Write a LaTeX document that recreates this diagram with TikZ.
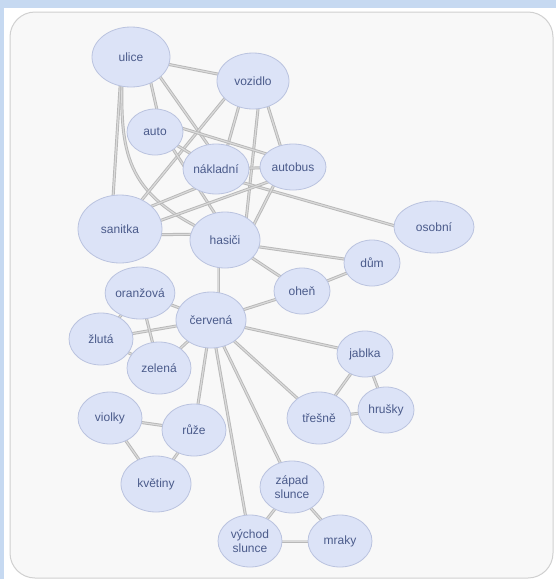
\documentclass[tikz,border=0pt]{standalone}
\usepackage{fontspec}
\setmainfont{Liberation Sans}
\usetikzlibrary{shapes.geometric,calc}
\pgfdeclarelayer{back}
\pgfdeclarelayer{edges}
\pgfsetlayers{back,edges,main}
\definecolor{bgblue}{HTML}{C6D9F1}
\definecolor{panelfill}{HTML}{F8F8F8}
\definecolor{panelline}{HTML}{D0D0D0}
\definecolor{nodefill}{HTML}{DCE3F7}
\definecolor{nodeline}{HTML}{BAC3DF}
\definecolor{nodetext}{HTML}{4B5B8B}
\definecolor{edgeline}{HTML}{B8B8B8}
\definecolor{edgeinner}{HTML}{DADADA}
\tikzset{
  concept/.style={ellipse, draw=nodeline, line width=0.8pt, fill=nodefill, inner sep=0pt,
    text=nodetext, font=\fontsize{12}{13.5}\selectfont, align=center},
  link/.style={draw=edgeline, line width=0.9pt, double=edgeinner, double distance=1.2pt},
}
\begin{document}
\begin{tikzpicture}[x=1pt,y=-1pt]
\useasboundingbox (0,0) rectangle (556,579);
\begin{pgfonlayer}{back}
\fill[bgblue] (0,0) rectangle (556,579);
\fill[white] (4,8) rectangle (556,579);
\draw[panelline, fill=panelfill, line width=1pt, rounded corners=25pt] (10,12) rectangle (553,578);
\end{pgfonlayer}

\node[concept, minimum width=78pt, minimum height=60pt] (ulice) at (131,57) {ulice};
\node[concept, minimum width=72pt, minimum height=56pt] (vozidlo) at (253,81) {vozidlo};
\node[concept, minimum width=56pt, minimum height=46pt] (auto) at (155,132) {auto};
\node[concept, minimum width=66pt, minimum height=50pt] (naklad) at (216,169) {nákladní};
\node[concept, minimum width=66pt, minimum height=46pt] (autobus) at (293,167) {autobus};
\node[concept, minimum width=84pt, minimum height=68pt] (sanitka) at (120,229) {sanitka};
\node[concept, minimum width=70pt, minimum height=56pt] (hasici) at (225,240) {hasiči};
\node[concept, minimum width=80pt, minimum height=52pt] (osobni) at (434,227) {osobní};
\node[concept, minimum width=56pt, minimum height=46pt] (dum) at (372,263) {dům};
\node[concept, minimum width=56pt, minimum height=46pt] (ohen) at (302,291) {oheň};
\node[concept, minimum width=68pt, minimum height=52pt] (oranzova) at (140,293) {oranžová};
\node[concept, minimum width=70pt, minimum height=56pt] (cervena) at (211,320) {červená};
\node[concept, minimum width=64pt, minimum height=52pt] (zluta) at (101,339) {žlutá};
\node[concept, minimum width=64pt, minimum height=52pt] (zelena) at (159,368) {zelená};
\node[concept, minimum width=56pt, minimum height=46pt] (jablka) at (365,354) {jablka};
\node[concept, minimum width=56pt, minimum height=46pt] (hrusky) at (386,410) {hrušky};
\node[concept, minimum width=64pt, minimum height=52pt] (tresne) at (319,418) {třešně};
\node[concept, minimum width=64pt, minimum height=52pt] (violky) at (110,418) {violky};
\node[concept, minimum width=64pt, minimum height=52pt] (ruze) at (194,430) {růže};
\node[concept, minimum width=70pt, minimum height=56pt] (kvetiny) at (156,484) {květiny};
\node[concept, minimum width=64pt, minimum height=52pt] (zapad) at (292,487) {západ\\slunce};
\node[concept, minimum width=64pt, minimum height=52pt] (vychod) at (250,541) {východ\\slunce};
\node[concept, minimum width=64pt, minimum height=52pt] (mraky) at (340,541) {mraky};

\begin{pgfonlayer}{edges}
\draw[link] (ulice.center) -- (vozidlo.center);
\draw[link] ($(ulice)+(14,0)$) -- ($(auto)+(7,0)$);
\draw[link] ($(ulice)+(-9,0)$) -- ($(sanitka)+(-9,0)$);
\draw[link] ($(ulice)+(-9,25)$) .. controls (120,165) and (132,200) .. (hasici.center);
\draw[link] ($(ulice)+(15,0)$) -- ($(naklad)+(9,0)$);
\draw[link] ($(vozidlo)+(-14,0)$) -- ($(sanitka)+(-2,0)$);
\draw[link] ($(vozidlo)+(-7,0)$) -- ($(naklad)+(5,0)$);
\draw[link] ($(vozidlo)+(8,0)$) -- ($(hasici)+(19,0)$);
\draw[link] ($(vozidlo)+(7,0)$) -- ($(autobus)+(-6,0)$);
\draw[link] ($(auto)+(0,-12)$) -- ($(autobus)+(0,-5)$);
\draw[link] (auto.center) -- (naklad.center);
\draw[link] ($(auto)+(7,0)$) -- ($(hasici)+(7,0)$);
\draw[link] (naklad.center) -- (autobus.center);
\draw[link] ($(naklad)+(0,11)$) -- ($(sanitka)+(0,-10)$);
\draw[link] ($(naklad)+(0,6)$) -- ($(osobni)+(0,10)$);
\draw[link] ($(autobus)+(0,6)$) -- ($(sanitka)+(0,6)$);
\draw[link] ($(autobus)+(-10,0)$) -- ($(hasici)+(21,0)$);
\draw[link] ($(sanitka)+(0,6)$) -- ($(hasici)+(0,-6)$);
\draw[link] ($(hasici)+(0,2)$) -- (dum.center);
\draw[link] (hasici.center) -- (ohen.center);
\draw[link] ($(hasici)+(-7,0)$) -- ($(cervena)+(7,0)$);
\draw[link] (ohen.center) -- (dum.center);
\draw[link] (ohen.center) -- (cervena.center);
\draw[link] (cervena.center) -- (oranzova.center);
\draw[link] (cervena.center) -- (zluta.center);
\draw[link] (cervena.center) -- (zelena.center);
\draw[link] (oranzova.center) -- (zluta.center);
\draw[link] (oranzova.center) -- (zelena.center);
\draw[link] (zluta.center) -- (zelena.center);
\draw[link] (cervena.center) -- (jablka.center);
\draw[link] (cervena.center) -- (tresne.center);
\draw[link] (cervena.center) -- (zapad.center);
\draw[link] (cervena.center) -- (vychod.center);
\draw[link] (cervena.center) -- (ruze.center);
\draw[link] (jablka.center) -- (tresne.center);
\draw[link] (jablka.center) -- (hrusky.center);
\draw[link] (tresne.center) -- (hrusky.center);
\draw[link] (violky.center) -- (ruze.center);
\draw[link] (violky.center) -- (kvetiny.center);
\draw[link] (ruze.center) -- (kvetiny.center);
\draw[link] (zapad.center) -- (vychod.center);
\draw[link] (zapad.center) -- (mraky.center);
\draw[link] (vychod.center) -- (mraky.center);
\end{pgfonlayer}
\end{tikzpicture}
\end{document}
